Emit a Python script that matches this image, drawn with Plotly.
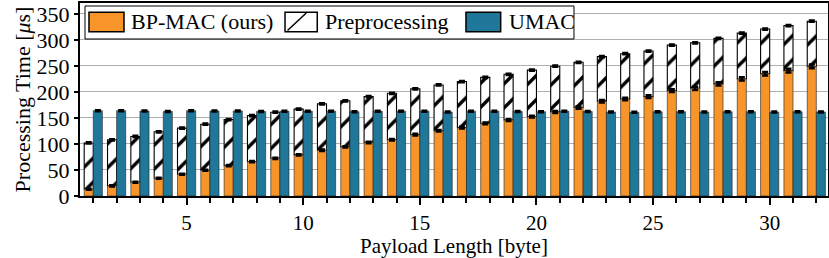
import plotly.graph_objects as go

payload = list(range(1, 33))
bpmac = [13, 19.5, 26.5, 34, 42, 49.5, 58.5, 66, 72.5, 79, 88, 94.5, 103, 108, 118, 125.5,
         131.5, 139.5, 146, 152.5, 161.5, 170, 182, 186.5, 191, 202.5, 207, 215.5, 225, 235, 241, 249]
bpmac_err = [1.0, 1.0, 1.0, 1.0, 1.0, 1.0, 1.2, 1.2, 1.2, 1.2, 1.3, 1.3, 1.4, 1.4, 1.5, 1.5,
             1.6, 1.6, 1.8, 1.8, 2.0, 2.2, 2.5, 2.5, 2.6, 2.8, 3.0, 3.0, 3.2, 3.4, 3.5, 3.6]
preproc = [89, 88.5, 88, 89.5, 88.5, 88.5, 88.5, 88.5, 88.5, 88, 89, 88.5, 88, 89.5, 88, 88,
           88.5, 88.5, 88, 89.5, 88, 87, 86, 87, 87.5, 87.5, 87.5, 87.5, 88, 86, 86.5, 87]
preproc_err = [1.2] * 32
umac = [164, 164, 163.5, 162.5, 164, 163.5, 163.5, 162.5, 163, 163, 163, 162, 163, 163, 163, 161.5,
        163, 163, 162.5, 162, 163, 162.5, 161.5, 161, 162, 162, 161.5, 162, 162, 161.5, 162, 161.5]
umac_err = [1.0] * 32
series_names = ["BP-MAC (ours)", "Preprocessing", "UMAC"]

ORANGE = "#F7952B"
BLUE = "#1F7899"
FONT = "Liberation Serif"

err_style = dict(type="data", thickness=2.5, width=3, color="black", visible=True)

fig = go.Figure()
# Preprocessing stacked on top of BP-MAC (same offset group); drawn first so the
# BP-MAC error caps stay visible on top of it.
fig.add_trace(go.Bar(
    x=payload, y=preproc, base=bpmac, name=series_names[1], offsetgroup="a",
    marker=dict(color="white", line=dict(color="black", width=1.1),
                pattern=dict(shape="/", fgcolor="black", fgopacity=1, bgcolor="white", size=17, solidity=0.2)),
    error_y=dict(array=preproc_err, **err_style), showlegend=False))
fig.add_trace(go.Bar(
    x=payload, y=bpmac, name=series_names[0], offsetgroup="a",
    marker=dict(color=ORANGE, line=dict(color="#222222", width=0.6)),
    error_y=dict(array=bpmac_err, **err_style), showlegend=False))
fig.add_trace(go.Bar(
    x=payload, y=umac, name=series_names[2], offsetgroup="b",
    marker=dict(color=BLUE, line=dict(color="#222222", width=0.6)),
    error_y=dict(array=umac_err, **err_style), showlegend=False))

# manual legend (paper coordinates)
shapes = [
    dict(type="rect", xref="paper", yref="paper", x0=0.0067, x1=0.6604, y0=0.8135, y1=0.9845,
         fillcolor="white", line=dict(color="black", width=1), layer="above"),
    dict(type="rect", xref="paper", yref="paper", x0=0.0120, x1=0.0588, y0=0.8513, y1=0.9518,
         fillcolor=ORANGE, line=dict(color="black", width=1.5), layer="above"),
    dict(type="rect", xref="paper", yref="paper", x0=0.2741, x1=0.3172, y0=0.8513, y1=0.9518,
         fillcolor="white", line=dict(color="black", width=1.5), layer="above"),
    dict(type="line", xref="paper", yref="paper", x0=0.2774, x1=0.3025, y0=0.8575, y1=0.9482,
         line=dict(color="black", width=1.5), layer="above"),
    dict(type="rect", xref="paper", yref="paper", x0=0.5160, x1=0.5624, y0=0.8513, y1=0.9518,
         fillcolor=BLUE, line=dict(color="black", width=1.5), layer="above"),
]
annotations = [
    dict(text=series_names[0], x=0.0655, y=0.902, xref="paper", yref="paper",
         xanchor="left", yanchor="middle", showarrow=False, font=dict(family=FONT, size=22, color="black")),
    dict(text=series_names[1], x=0.3249, y=0.902, xref="paper", yref="paper",
         xanchor="left", yanchor="middle", showarrow=False, font=dict(family=FONT, size=22, color="black")),
    dict(text=series_names[2], x=0.5704, y=0.902, xref="paper", yref="paper",
         xanchor="left", yanchor="middle", showarrow=False, font=dict(family=FONT, size=22, color="black")),
]

fig.update_layout(
    width=829, height=258,
    margin=dict(l=80, r=1, t=3, b=62, autoexpand=False),
    paper_bgcolor="white", plot_bgcolor="white",
    barmode="group", bargap=0.22, bargroupgap=0.0,
    font=dict(family=FONT, size=22, color="black"),
    shapes=shapes, annotations=annotations,
    showlegend=False,
)
fig.update_xaxes(
    range=[0.43, 32.5], tick0=0, dtick=5, ticks="outside", ticklen=7, tickwidth=2, tickcolor="black",
    tickfont=dict(family=FONT, size=21), automargin=False,
    minor=dict(dtick=1, tick0=0, ticks="outside", ticklen=5, tickwidth=2, tickcolor="black", showgrid=False),
    showgrid=False, zeroline=False, showline=True, linecolor="black", linewidth=2, mirror=True,
    title=dict(text="Payload Length [byte]", font=dict(family=FONT, size=21), standoff=4),
)
fig.update_yaxes(
    range=[0, 371], tick0=0, dtick=50, ticks="outside", ticklen=4, tickwidth=1.5, tickcolor="black",
    tickfont=dict(family=FONT, size=22), automargin=False,
    showgrid=True, gridcolor="#b0b0b0", gridwidth=1, zeroline=False,
    showline=True, linecolor="black", linewidth=2, mirror=True,
    title=dict(text="Processing Time [<i>μ</i>s]", font=dict(family=FONT, size=22), standoff=0),
)

fig.write_html(
    "out.html",
    config={"displayModeBar": False},
    post_script="document.body.style.margin='0';document.body.style.overflow='hidden';",
)
